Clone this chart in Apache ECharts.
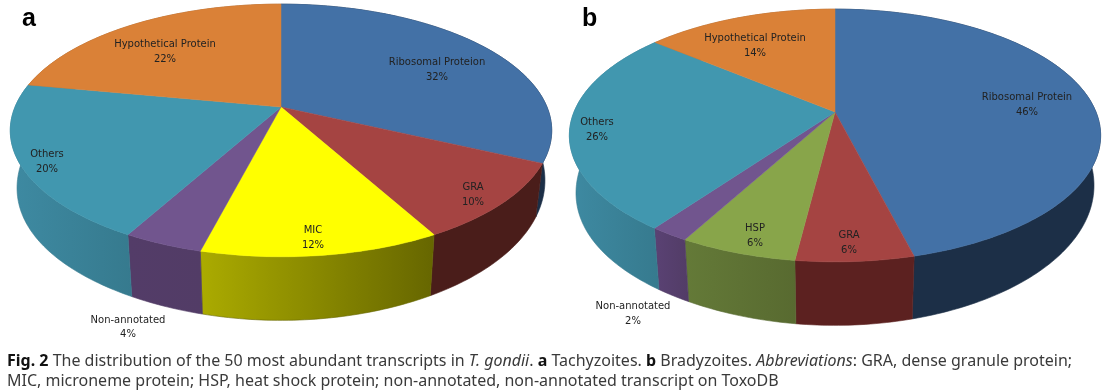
<!DOCTYPE html>
<html>
<head>
<meta charset="utf-8">
<style>html,body{margin:0;padding:0;background:#fff}#c{width:1103px;height:390px}</style>
<script src="https://cdn.jsdelivr.net/npm/echarts@6/dist/echarts.min.js"></script>
</head>
<body>
<div id="c"></div>
<script>
// ---- data ----
const categoriesA = ['Ribosomal Proteion', 'GRA', 'MIC', 'Non-annotated', 'Others', 'Hypothetical Protein'];
const valuesA = [32, 10, 12, 4, 20, 22];
const categoriesB = ['Ribosomal Protein', 'GRA', 'HSP', 'Non-annotated', 'Others', 'Hypothetical Protein'];
const valuesB = [46, 6, 6, 2, 26, 14];

// ---- styles and layout ----
const topColor = {
  'Ribosomal': '#4371A6', 'GRA': '#A54442', 'MIC': '#FFFF00', 'HSP': '#88A54A',
  'Non-annotated': '#71558E', 'Others': '#4197AF', 'Hypothetical': '#DA8137'
};
const sideColorsA = [['#1C2F47', '#1C2F47'], ['#4A1D1A', '#4A1D1A'], ['#ABAB00', '#666600'], ['#533C68', '#523C66'], ['#3E8AA2', '#367A8E'], ['#A0602A', '#A0602A']];
const sideColorsB = [['#1C2F47', '#1C2F47'], ['#5C2120', '#5C2120'], ['#647A38', '#586A30'], ['#5A4274', '#523C66'], ['#3E8AA2', '#367A8E'], ['#A0602A', '#A0602A']];
const geomA = { cx: 281, cy: 107, C: 266, A: 122, k: 0.186 };
const geomB = { cx: 835, cy: 112, C: 261, A: 122, k: 0.186 };
const sideGeom = { xScale: 0.975, yScale: 1.13, drop: 44, bulgeLeft: 11, bulgeRight: 3 };
const labelAnchorsA = [[437, 70], [473, 195], [313, 238], [128, 327.5], [47, 162], [165, 52]];
const labelAnchorsB = [[1027, 105], [849, 243], [755, 236], [633, 314], [597, 130], [755, 46]];

function project(g, phi) {
  const u = Math.sin(phi), v = Math.cos(phi), d = 1 + g.k * v;
  return [g.C * u / d, g.A * v / d];
}
function topPt(g, phi) { const p = project(g, phi); return [g.cx + p[0], g.cy - p[1]]; }
function botPt(g, phi) {
  const p = project(g, phi);
  const u = Math.sin(phi);
  const v = Math.cos(phi);
  // the rim of the lower disc is squarer than an ellipse on the near side
  const bulge = v < 0 ? (u < 0 ? sideGeom.bulgeLeft : sideGeom.bulgeRight) * Math.pow(Math.abs(u), 3) : 0;
  return [g.cx + p[0] * sideGeom.xScale, g.cy - (p[1] * sideGeom.yScale - sideGeom.drop) + bulge];
}
function arc(fn, g, a0, a1) {
  const n = Math.max(2, Math.ceil((a1 - a0) / (Math.PI / 180)));
  const out = [];
  for (let i = 0; i <= n; i++) out.push(fn(g, a0 + (a1 - a0) * i / n));
  return out;
}
function sliceAngles(vals, i) {
  const tot = vals.reduce((s, x) => s + x, 0);
  let c = 0;
  for (let j = 0; j < i; j++) c += vals[j];
  return [c / tot * Math.PI * 2, (c + vals[i]) / tot * Math.PI * 2];
}
function colorOf(name) {
  for (const key in topColor) if (name.indexOf(key) === 0) return topColor[key];
  return '#888';
}
function pieLayers(name, cats, vals, g, sides, anchors) {
  const base = { type: 'custom', coordinateSystem: 'none', silent: true, animation: false, clip: false };
  const data = vals.map((v, i) => ({ name: cats[i], value: v }));
  return [
    Object.assign({}, base, { name: name + ' side', data, z: 2, renderItem(params) {
      const i = params.dataIndex, a = sliceAngles(vals, i);
      const pts = arc(topPt, g, a[0], a[1]).concat(arc(botPt, g, a[0], a[1]).reverse());
      return { type: 'polygon', shape: { points: pts }, style: {
        stroke: sides[i][1], lineWidth: 0.6,
        fill: { type: 'linear', x: 0, y: 0, x2: 1, y2: 0, colorStops: [
          { offset: 0, color: sides[i][0] }, { offset: 1, color: sides[i][1] }] } } };
    } }),
    Object.assign({}, base, { name: name + ' top', data, z: 3, renderItem(params) {
      const i = params.dataIndex, a = sliceAngles(vals, i);
      const pts = [[g.cx, g.cy]].concat(arc(topPt, g, a[0], a[1]));
      const col = colorOf(cats[i]);
      return { type: 'polygon', shape: { points: pts }, style: { fill: col, stroke: col, lineWidth: 0.5 } };
    } }),
    Object.assign({}, base, { name: name + ' labels', data, z: 4, renderItem(params, api) {
      const i = params.dataIndex;
      return { type: 'text', style: {
        x: anchors[i][0], y: anchors[i][1],
        text: cats[i] + '\n' + api.value(0) + '%',
        align: 'center', verticalAlign: 'middle',
        font: '10px "DejaVu Sans"', lineHeight: 14.5, fill: '#222' } };
    } })
  ];
}

const capBase = { fontFamily: 'Noto Sans', fontWeight: 'normal', fontSize: 16, color: '#3a3a3a' };
const chart = echarts.init(document.getElementById('c'), null, { renderer: 'canvas' });
chart.setOption({
  backgroundColor: '#fff',
  animation: false,
  title: [
    { text: 'a', left: 22, top: 7, padding: 0, textStyle: { fontFamily: 'Liberation Sans', fontWeight: 'bold', fontSize: 25, color: '#000' } },
    { text: 'b', left: 582, top: 7, padding: 0, textStyle: { fontFamily: 'Liberation Sans', fontWeight: 'bold', fontSize: 25, color: '#000' } },
    { left: 7, top: 351, padding: 0,
      text: '{b|Fig. 2} The distribution of the 50 most abundant transcripts in {i|T. gondii}. {b|a} Tachyzoites. {b|b} Bradyzoites. {i|Abbreviations}: GRA, dense granule protein;\nMIC, microneme protein; HSP, heat shock protein; non-annotated, non-annotated transcript on ToxoDB',
      textStyle: Object.assign({}, capBase, { lineHeight: 20,
        rich: {
          b: Object.assign({}, capBase, { fontWeight: 'bold', color: '#111', lineHeight: 20 }),
          i: Object.assign({}, capBase, { fontStyle: 'italic', lineHeight: 20 })
        } }) }
  ],
  series: pieLayers('a', categoriesA, valuesA, geomA, sideColorsA, labelAnchorsA)
    .concat(pieLayers('b', categoriesB, valuesB, geomB, sideColorsB, labelAnchorsB))
});
</script>
</body>
</html>
